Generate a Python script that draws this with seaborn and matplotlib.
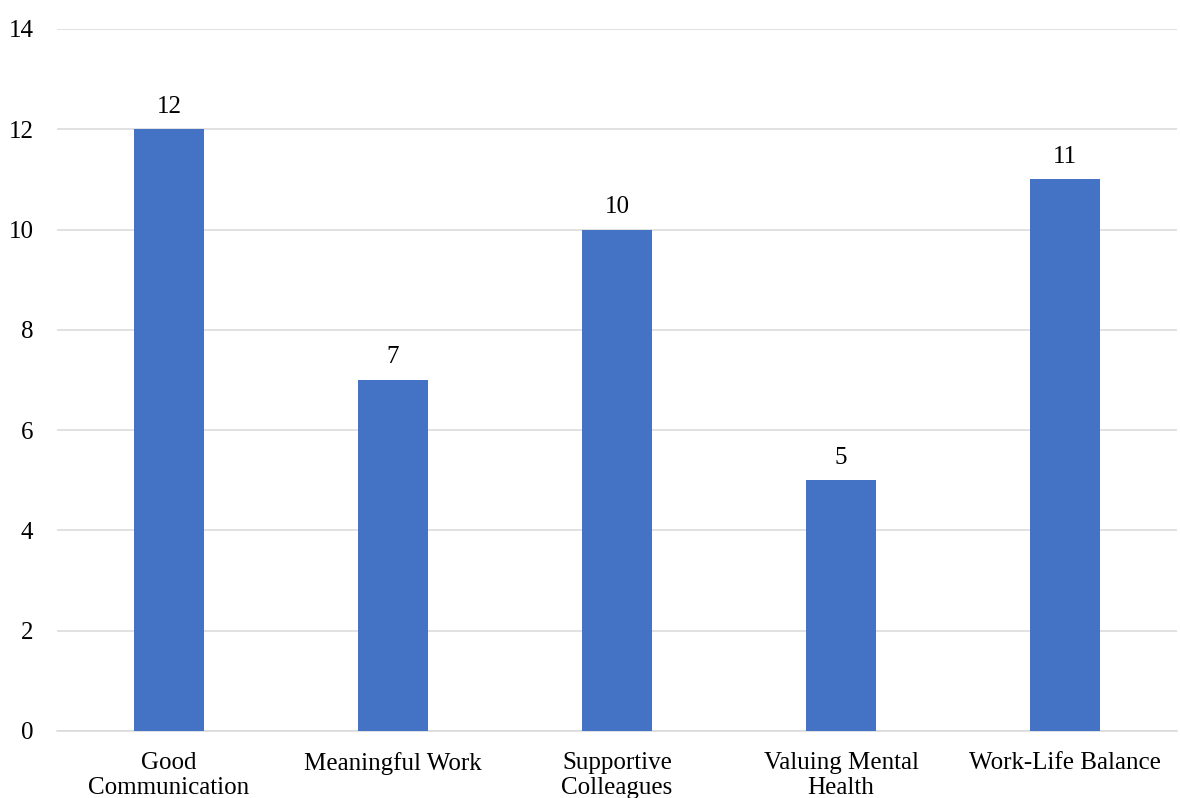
import pandas as pd
import matplotlib.pyplot as plt
import seaborn as sns

# data
categories = ["Good\nCommunication", "Meaningful Work", "Supportive\nColleagues",
              "Valuing Mental\nHealth", "Work-Life Balance"]
counts = [12, 7, 10, 5, 11]
y_ticks = [0, 2, 4, 6, 8, 10, 12, 14]

df = pd.DataFrame({"category": categories, "count": counts})

sns.set_theme(style="white")
plt.rcParams["font.family"] = ["Liberation Serif", "DejaVu Serif"]

fig = plt.figure(figsize=(11.8, 7.98), dpi=100)
ax = fig.add_axes([0.0483, 0.084, 0.9492, 0.8797])

sns.barplot(x="category", y="count", data=df, color="#4472C4",
            width=0.3125, saturation=1, linewidth=0, ax=ax, zorder=3)

for i, v in enumerate(counts):
    ax.text(i, v + 0.23, str(v), ha="center", va="bottom", fontsize=18, color="#000000")

ax.set_ylim(0, 14)
ax.set_yticks(y_ticks)
ax.yaxis.grid(True, color="#D9D9D9", linewidth=1.1, zorder=0)
ax.set_xlabel("")
ax.set_ylabel("")
ax.tick_params(axis="y", length=0, pad=17, labelsize=18, labelcolor="#000000")
ax.tick_params(axis="x", length=0, pad=15, labelsize=18, labelcolor="#000000")
for lbl in ax.get_xticklabels():
    lbl.set_linespacing(1.2)
for s in ["top", "right", "left"]:
    ax.spines[s].set_visible(False)
ax.spines["bottom"].set_color("#D9D9D9")
ax.spines["bottom"].set_linewidth(1.1)

fig.savefig("out.png", dpi=100)
